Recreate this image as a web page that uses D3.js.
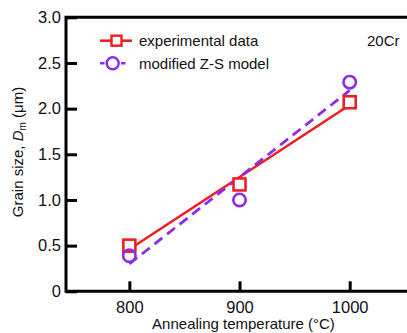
<!DOCTYPE html>
<html>
<head>
<meta charset="utf-8">
<script src="https://cdn.jsdelivr.net/npm/d3@7"></script>
<style>
  html, body { margin: 0; padding: 0; background: #fff; }
  svg { display: block; font-family: 'Liberation Sans', Arial, sans-serif; }
</style>
</head>
<body>
<svg id="chart" width="407" height="333"></svg>
<script>
// data
const temps = [800, 900, 1000];
const experimental = [0.5, 1.17, 2.07];
const modelZS = [0.39, 1.0, 2.29];
// straight fit lines, end values at 800 and 1000 °C
const fitTemps = [800, 1000];
const fitExperimental = [0.46, 2.04];
const fitModel = [0.3, 2.2];
const yTicks = [0, 0.5, 1.0, 1.5, 2.0, 2.5, 3.0];
const legendLabels = ['experimental data', 'modified Z-S model'];

const RED = '#f01e24';
const PURPLE = '#8a2cf0';

const width = 407;
const height = 333;
const svg = d3.select('#chart').attr('viewBox', `0 0 ${width} ${height}`);

const x = d3.scaleLinear().domain([742.5, 1060]).range([66, 415.8]);
const y = d3.scaleLinear().domain([0, 3]).range([291.3, 17.3]);

// frame (right side runs off the picture)
svg
  .append('path')
  .attr('d', `M${x(1060)},${y(3)}H${x(742.5)}V${y(0)}H${x(1060)}`)
  .attr('fill', 'none')
  .attr('stroke', '#000')
  .attr('stroke-width', 3);

const yAxis = svg
  .append('g')
  .attr('transform', `translate(${x(742.5)},0)`)
  .call(
    d3
      .axisLeft(y)
      .tickValues(yTicks)
      .tickSizeInner(-11)
      .tickSizeOuter(0)
      .tickPadding(5)
      .tickFormat((d) => (d === 0 ? '0' : d3.format('.1f')(d)))
  );
yAxis.select('.domain').remove();
yAxis.selectAll('line').attr('stroke-width', 3).attr('stroke', '#000');
yAxis.selectAll('text').attr('font-size', 16.5).attr('fill', '#111').attr('font-family', null);

const xAxis = svg
  .append('g')
  .attr('transform', `translate(0,${y(0)})`)
  .call(
    d3
      .axisBottom(x)
      .tickValues(temps)
      .tickSizeInner(-10)
      .tickSizeOuter(0)
      .tickPadding(10)
      .tickFormat(d3.format('d'))
  );
xAxis.select('.domain').remove();
xAxis.selectAll('line').attr('stroke-width', 3).attr('stroke', '#000');
xAxis.selectAll('text').attr('font-size', 16.5).attr('fill', '#111').attr('font-family', null);

// axis titles
svg
  .append('text')
  .attr('x', 243.5)
  .attr('y', 329)
  .attr('text-anchor', 'middle')
  .attr('font-size', 15)
  .attr('fill', '#111')
  .text('Annealing temperature (°C)');

const yTitle = svg
  .append('text')
  .attr('transform', 'translate(23,152) rotate(-90)')
  .attr('text-anchor', 'middle')
  .attr('font-size', 15)
  .attr('fill', '#111');
yTitle.append('tspan').text('Grain size, ');
yTitle.append('tspan').attr('font-style', 'italic').text('D');
yTitle.append('tspan').attr('font-size', 10).attr('dy', 3).text('m');
yTitle.append('tspan').attr('dy', -3).text(' (μm)');

// fit lines
const line = d3
  .line()
  .x((d) => x(d[0]))
  .y((d) => y(d[1]));
svg
  .append('path')
  .attr('d', line(d3.zip(fitTemps, fitExperimental)))
  .attr('fill', 'none')
  .attr('stroke', RED)
  .attr('stroke-width', 2.6);
svg
  .append('path')
  .attr('d', line(d3.zip(fitTemps, fitModel)))
  .attr('fill', 'none')
  .attr('stroke', PURPLE)
  .attr('stroke-width', 2.8)
  .attr('stroke-dasharray', '10,6');

// markers
const sq = 12;
svg
  .append('g')
  .selectAll('rect')
  .data(d3.zip(temps, experimental))
  .join('rect')
  .attr('x', (d) => x(d[0]) - sq / 2)
  .attr('y', (d) => y(d[1]) - sq / 2)
  .attr('width', sq)
  .attr('height', sq)
  .attr('fill', '#fff')
  .attr('stroke', RED)
  .attr('stroke-width', 2.6);
svg
  .append('g')
  .selectAll('circle')
  .data(d3.zip(temps, modelZS))
  .join('circle')
  .attr('cx', (d) => x(d[0]))
  .attr('cy', (d) => y(d[1]))
  .attr('r', 6.2)
  .attr('fill', 'none')
  .attr('stroke', PURPLE)
  .attr('stroke-width', 2.6);

// legend
const legend = svg.append('g');
const rows = legend
  .selectAll('g')
  .data(legendLabels)
  .join('g')
  .attr('transform', (d, i) => `translate(0,${40.7 + i * 22.6})`);
rows
  .append('line')
  .attr('x1', 100)
  .attr('x2', (d, i) => (i === 0 ? 132 : 126))
  .attr('stroke', (d, i) => (i === 0 ? RED : PURPLE))
  .attr('stroke-width', 2.6)
  .attr('stroke-dasharray', (d, i) => (i === 0 ? null : '4.5,16.5'));
rows
  .filter((d, i) => i === 0)
  .append('rect')
  .attr('x', 116.5 - 5)
  .attr('y', -5)
  .attr('width', 10)
  .attr('height', 10)
  .attr('fill', '#fff')
  .attr('stroke', RED)
  .attr('stroke-width', 2.4);
rows
  .filter((d, i) => i === 1)
  .append('circle')
  .attr('cx', 112.7)
  .attr('r', 6)
  .attr('fill', '#fff')
  .attr('stroke', PURPLE)
  .attr('stroke-width', 2.4);
rows
  .append('text')
  .attr('x', 139)
  .attr('dy', '0.36em')
  .attr('font-size', 15)
  .attr('fill', '#111')
  .text((d) => d);

svg
  .append('text')
  .attr('x', 367)
  .attr('y', 46)
  .attr('font-size', 15)
  .attr('fill', '#111')
  .text('20Cr');
</script>
</body>
</html>
